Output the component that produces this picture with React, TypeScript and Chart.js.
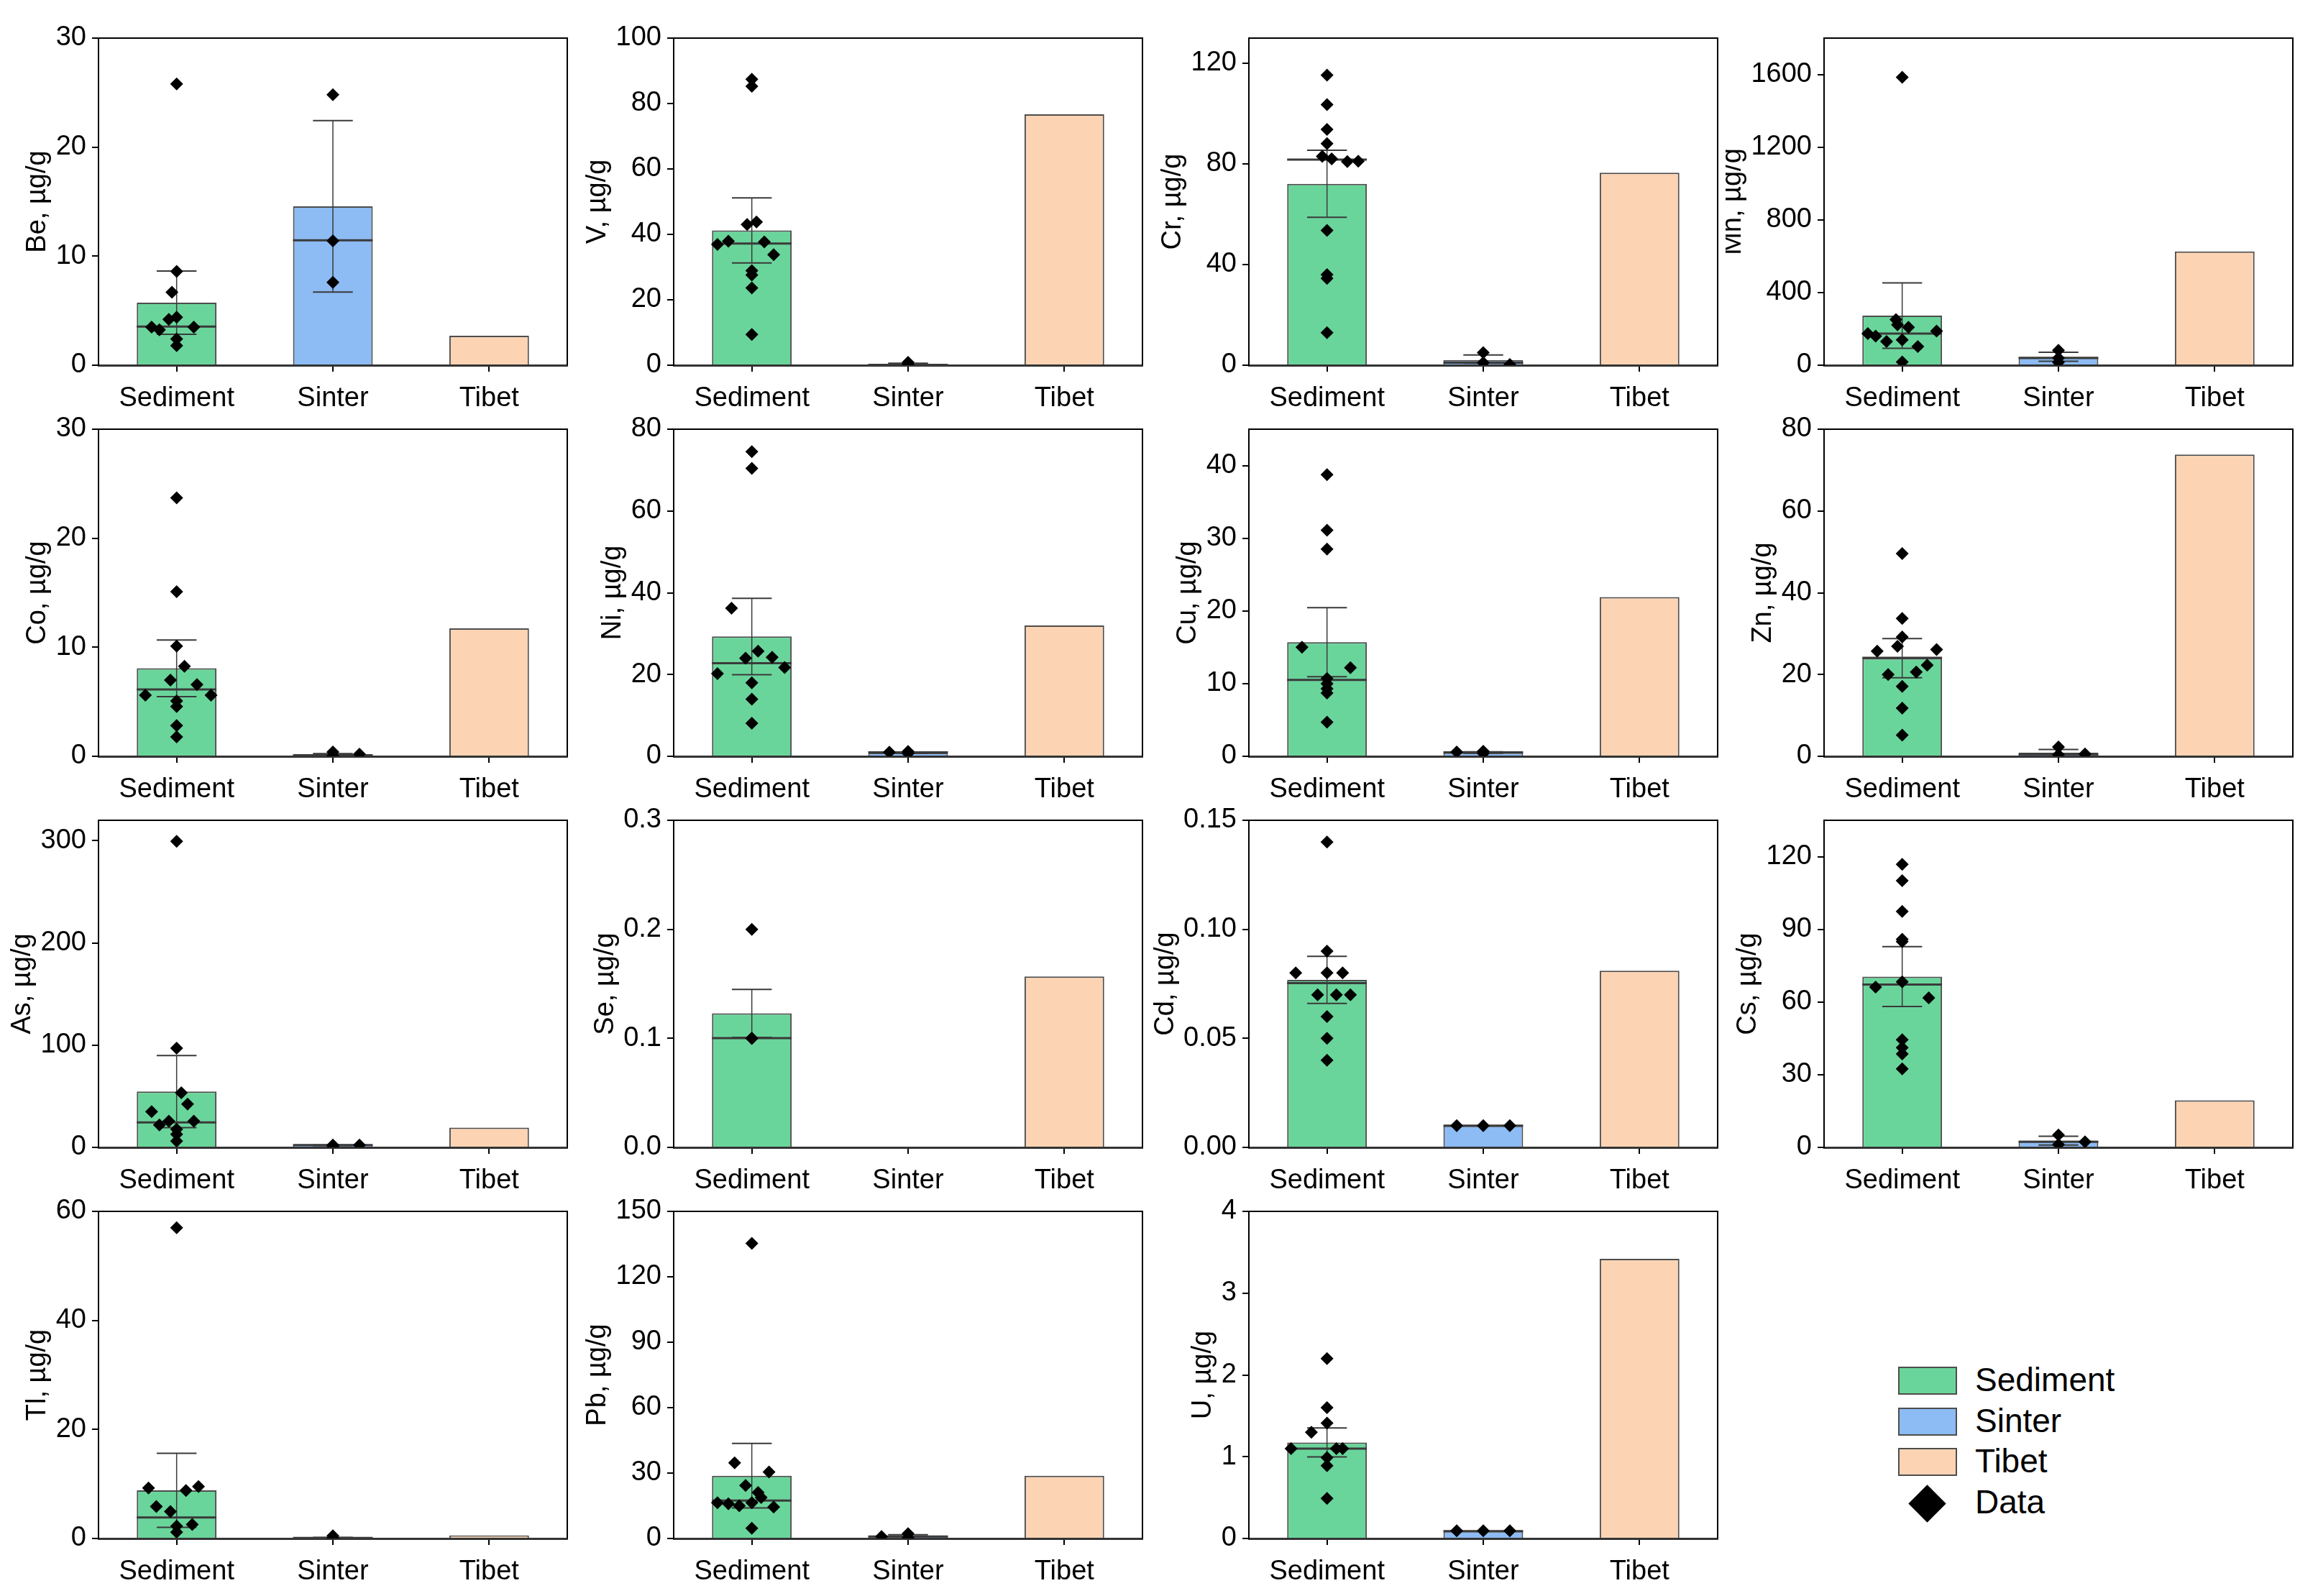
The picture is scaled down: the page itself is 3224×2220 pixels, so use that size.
import React, { useEffect, useRef } from 'react';
import { Chart, registerables } from 'chart.js';

Chart.register(...registerables);

const FONT = "'Liberation Sans', Arial, sans-serif";

const categories = ['Sediment', 'Sinter', 'Tibet'];
const barColors = ['#6AD59B', '#8DBBF3', '#FCD4B4'];
const elements = ['Be', 'V', 'Cr', 'Mn', 'Co', 'Ni', 'Cu', 'Zn', 'As', 'Se', 'Cd', 'Cs', 'Tl', 'Pb', 'U'];
const unitLabel = 'µg/g';

const yMax = [30, 100, 130, 1800, 30, 80, 45, 80, 320, 0.3, 0.15, 135, 60, 150, 4];
const yStep = [10, 20, 40, 400, 10, 20, 10, 20, 100, 0.1, 0.05, 30, 20, 30, 1];
const yDecimals = [0, 0, 0, 0, 0, 0, 0, 0, 0, 1, 2, 0, 0, 0, 0];

// bar heights (mean) for Sediment, Sinter, Tibet
const barMeans: (number | null)[][] = [
  [5.73, 14.57, 2.71],
  [41.2, 0.35, 76.7],
  [72.1, 2.1, 76.5],
  [273, 46.6, 626],
  [8.07, 0.15, 11.73],
  [29.3, 0.9, 32.0],
  [15.7, 0.52, 21.9],
  [24.0, 0.86, 73.8],
  [54.6, 2.0, 19.4],
  [0.1229, null, 0.1568],
  [0.0768, 0.01, 0.081],
  [70.5, 2.8, 19.4],
  [8.83, 0.15, 0.56],
  [28.8, 0.9, 28.8],
  [1.174, 0.09, 3.42],
];

// standard errors for Sediment, Sinter
const barSE: (number | null)[][] = [
  [2.9, 7.86],
  [9.95, 0.28],
  [13.3, 2.0],
  [180, 25],
  [2.6, 0.1],
  [9.35, 0.15],
  [4.75, 0.1],
  [4.8, 0.8],
  [35.2, 0.3],
  [0.022, null],
  [0.0108, 0],
  [12.35, 1.8],
  [6.8, 0.05],
  [14.8, 0.8],
  [0.177, 0],
];

// medians for Sediment, Sinter
const barMedians: (number | null)[][] = [
  [3.54, 11.45],
  [37.2, 0.1],
  [81.7, 1.0],
  [174, 40],
  [6.13, 0.1],
  [22.75, 0.95],
  [10.5, 0.55],
  [24.1, 0.5],
  [24.4, 2.2],
  [0.1002, null],
  [0.0753, 0.01],
  [67.2, 2.3],
  [3.85, 0.1],
  [17.4, 0.9],
  [1.1, 0.09],
];

const sedimentPoints: number[][] = [
  [25.8, 8.6, 6.7, 4.4, 4.2, 3.5, 3.25, 3.5, 2.4, 1.8],
  [87.4, 85.3, 43.8, 43.0, 37.9, 36.9, 37.7, 33.8, 28.9, 27.6, 23.6, 9.4],
  [115.3, 103.6, 93.7, 88.1, 83.0, 82.0, 80.9, 81.1, 53.6, 36.0, 34.5, 12.9],
  [1584, 251, 223, 209, 174, 160, 188, 131, 139, 103, 18],
  [23.7, 15.1, 10.1, 8.26, 6.99, 6.57, 5.6, 5.6, 5.07, 4.56, 2.82, 1.78],
  [74.5, 70.4, 36.2, 25.7, 24.0, 24.2, 21.7, 20.2, 18.0, 14.0, 8.1],
  [38.75, 31.1, 28.5, 15.0, 12.2, 10.7, 10.0, 9.3, 8.7, 4.7],
  [49.6, 33.7, 29.2, 26.9, 25.7, 26.1, 22.3, 20.6, 20.0, 17.1, 11.8, 5.2],
  [299.5, 97, 53.4, 42.3, 35, 25.6, 25.6, 21.9, 17.7, 12.8, 6.2],
  [0.2, 0.1, 0.1, 0.1],
  [0.14, 0.09, 0.08, 0.08, 0.08, 0.07, 0.07, 0.07, 0.06, 0.05, 0.04],
  [116.8, 110.1, 97.4, 85.9, 84.9, 68.3, 66.2, 61.7, 44.4, 41.2, 38.6, 32.4],
  [57.0, 9.26, 9.54, 8.79, 5.87, 4.93, 2.58, 2.26, 1.17],
  [135.3, 34.7, 30.5, 24.3, 21.1, 18.8, 16.4, 15.9, 15.0, 16.4, 14.4, 4.7],
  [2.2, 1.6, 1.41, 1.3, 1.1, 1.1, 1.1, 0.99, 0.89, 0.49],
];

// horizontal spread of each sediment point, in category widths
const sedimentJitter: number[][] = [
  [0, 0, -0.03, 0, -0.05, -0.16, -0.11, 0.11, 0, 0],
  [0, 0, 0.03, -0.03, -0.15, -0.22, 0.08, 0.14, 0, 0, 0, 0],
  [0, 0, 0, 0, -0.03, 0.03, 0.13, 0.2, 0, 0, 0, 0],
  [0, -0.04, -0.03, 0.04, -0.22, -0.17, 0.22, -0.1, 0, 0.1, 0],
  [0, 0, 0, 0.05, -0.04, 0.13, -0.2, 0.22, 0, 0, 0, 0],
  [0, 0, -0.13, 0.04, -0.04, 0.13, 0.21, -0.22, 0, 0, 0],
  [0, 0, 0, -0.16, 0.15, 0, 0, 0, 0, 0],
  [0, 0, 0, -0.03, -0.16, 0.22, 0.16, 0.09, -0.09, 0, 0, 0],
  [0, 0, 0.03, 0.07, -0.16, -0.05, 0.11, -0.11, 0, 0, 0],
  [0, 0, 0, 0],
  [0, 0, -0.2, 0, 0.1, -0.06, 0.06, 0.15, 0, 0, 0],
  [0, 0, 0, 0, 0, 0, -0.17, 0.17, 0, 0, 0, 0],
  [0, -0.18, 0.14, 0.06, -0.13, -0.04, 0.1, 0, 0],
  [0, -0.11, 0.11, -0.04, 0.04, 0.06, -0.22, -0.15, -0.08, 0, 0.14, 0],
  [0, 0, 0, -0.1, -0.23, 0.06, 0.1, 0, 0, 0],
];

const sinterPoints: number[][] = [
  [24.8, 11.4, 7.6],
  [0.9, 0.1, 0.05],
  [5.0, 1.0, 0.3],
  [82, 40, 16],
  [0.4, 0.2, 0.05],
  [1.0, 1.2, 0.7],
  [0.6, 0.7, 0.4],
  [2.3, 0.4, 0.55],
  [2.2, 2.2, 1.0],
  [],
  [0.01, 0.01, 0.01],
  [5.1, 1.2, 2.3],
  [0.5, 0.1, 0.05],
  [0.9, 2.2, 0.3],
  [0.094, 0.094, 0.094],
];

const sinterJitter: number[][] = [
  [0, 0, 0],
  [0, 0, 0],
  [0, 0, 0.17],
  [0, 0, 0],
  [0, 0.17, 0],
  [-0.12, 0, 0],
  [-0.17, 0, 0],
  [0, 0, 0.17],
  [0, 0.17, 0],
  [],
  [-0.17, 0, 0.17],
  [0, 0, 0.17],
  [0, 0, 0],
  [-0.17, 0, 0],
  [-0.17, 0, 0.17],
];

const legendItems = ['Sediment', 'Sinter', 'Tibet'];

const TICK_FONT = { family: FONT, size: 38 };
const TICK_LEN = 9;
const Y_PAD = 8;

const errorBarPlugin = {
  id: 'errorBars',
  afterDatasetDraw(chart: any, args: any, opts: any) {
    if (args.meta.type !== 'bar') return;
    const y = chart.scales.y;
    const ctx = chart.ctx;
    args.meta.data.forEach((bar: any, k: number) => {
      const mean = opts.means[k];
      if (mean == null || k > 1) return;
      const se = opts.se[k];
      const med = opts.medians[k];
      const { x, width } = bar.getProps(['x', 'width'], true);
      ctx.save();
      ctx.strokeStyle = '#3a3a3a';
      if (se != null && se > 0) {
        const yt = y.getPixelForValue(mean + se);
        const yb = y.getPixelForValue(mean - se);
        ctx.lineWidth = 1.5;
        ctx.beginPath();
        ctx.moveTo(x, yt);
        ctx.lineTo(x, yb);
        ctx.stroke();
        ctx.lineWidth = 2;
        ctx.beginPath();
        ctx.moveTo(x - width / 4, yt);
        ctx.lineTo(x + width / 4, yt);
        ctx.moveTo(x - width / 4, yb);
        ctx.lineTo(x + width / 4, yb);
        ctx.stroke();
      }
      if (med != null) {
        const ym = y.getPixelForValue(med);
        ctx.lineWidth = 3;
        ctx.beginPath();
        ctx.moveTo(x - width / 2, ym);
        ctx.lineTo(x + width / 2, ym);
        ctx.stroke();
      }
      ctx.restore();
    });
  },
};

const framePlugin = {
  id: 'frame',
  afterDraw(chart: any) {
    const { ctx, chartArea } = chart;
    ctx.save();
    ctx.strokeStyle = '#000';
    ctx.lineWidth = 2;
    ctx.beginPath();
    ctx.moveTo(chartArea.left, chartArea.top);
    ctx.lineTo(chartArea.right, chartArea.top);
    ctx.lineTo(chartArea.right, chartArea.bottom);
    ctx.stroke();
    ctx.restore();
  },
};

const axisTitlePlugin = {
  id: 'axisTitle',
  afterDraw(chart: any, _args: any, opts: any) {
    const { ctx, chartArea, scales } = chart;
    const y = scales.y;
    ctx.save();
    ctx.font = `${TICK_FONT.size}px ${FONT}`;
    let maxW = 0;
    y.ticks.forEach((t: any) => {
      maxW = Math.max(maxW, ctx.measureText(String(t.label)).width);
    });
    const x = chartArea.left - TICK_LEN - Y_PAD - maxW - 6;
    const cy = (chartArea.top + chartArea.bottom) / 2;
    ctx.translate(x, cy);
    ctx.rotate(-Math.PI / 2);
    ctx.font = `38px ${FONT}`;
    ctx.fillStyle = '#000';
    ctx.textAlign = 'center';
    ctx.textBaseline = 'bottom';
    ctx.fillText(opts.text, 0, 0);
    ctx.restore();
  },
};

function buildConfig(i: number): any {
  const sedPts = sedimentPoints[i].map((v, k) => ({ x: 0 + sedimentJitter[i][k], y: v }));
  const sinPts = sinterPoints[i].map((v, k) => ({ x: 1 + sinterJitter[i][k], y: v }));
  const dec = yDecimals[i];
  const step = yStep[i];
  return {
    type: 'bar',
    data: {
      labels: categories,
      datasets: [
        {
          type: 'scatter',
          data: [...sedPts, ...sinPts],
          xAxisID: 'xj',
          yAxisID: 'y',
          pointStyle: 'rectRot',
          pointRadius: 9,
          backgroundColor: '#000',
          borderColor: '#000',
          borderWidth: 0,
          order: 0,
        },
        {
          type: 'bar',
          data: barMeans[i],
          backgroundColor: barColors,
          borderColor: '#4d4d4d',
          borderWidth: 2,
          barPercentage: 0.51,
          categoryPercentage: 1,
          grouped: false,
          xAxisID: 'x',
          yAxisID: 'y',
          order: 1,
        },
      ],
    },
    options: {
      animation: false,
      responsive: false,
      events: [],
      layout: { padding: { left: 0, top: 53, right: 11, bottom: 2 } },
      plugins: {
        legend: { display: false },
        tooltip: { enabled: false },
        title: { display: false },
        errorBars: { means: barMeans[i], se: barSE[i], medians: barMedians[i] },
        axisTitle: { text: `${elements[i]}, ${unitLabel}` },
      },
      scales: {
        x: {
          type: 'category',
          offset: true,
          grid: {
            display: true,
            drawOnChartArea: false,
            drawTicks: true,
            tickLength: TICK_LEN,
            color: '#000',
            lineWidth: 2,
            offset: false,
          },
          border: { display: true, color: '#333', width: 3 },
          ticks: { font: TICK_FONT, color: '#000', padding: 15, maxRotation: 0, autoSkip: false },
          afterFit(s: any) {
            s.height = 70;
          },
        },
        xj: {
          type: 'linear',
          display: false,
          offset: false,
          grid: { offset: false },
          min: -0.5,
          max: 2.5,
        },
        y: {
          type: 'linear',
          min: 0,
          max: yMax[i],
          bounds: 'data',
          grid: {
            display: true,
            drawOnChartArea: false,
            drawTicks: true,
            tickLength: TICK_LEN,
            color: '#000',
            lineWidth: 2,
          },
          border: { display: true, color: '#000', width: 2 },
          ticks: {
            stepSize: step,
            includeBounds: false,
            font: TICK_FONT,
            color: '#000',
            padding: Y_PAD,
            callback: (v: any) => Number(v).toFixed(dec),
          },
          afterBuildTicks(s: any) {
            s.ticks = s.ticks.filter((t: any) => {
              const r = t.value / step;
              return Math.abs(r - Math.round(r)) < 1e-6;
            });
          },
          afterFit(s: any) {
            s.width = 137;
          },
        },
      },
    },
    plugins: [errorBarPlugin, framePlugin, axisTitlePlugin],
  };
}

function Panel({ idx }: { idx: number }) {
  const ref = useRef<HTMLCanvasElement>(null);
  useEffect(() => {
    const chart = new Chart(ref.current as HTMLCanvasElement, buildConfig(idx));
    return () => chart.destroy();
  }, [idx]);
  const col = idx % 4;
  const row = Math.floor(idx / 4);
  return (
    <canvas
      ref={ref}
      width={800}
      height={580}
      style={{ position: 'absolute', left: col * 800, top: row * 544, width: 800, height: 580 }}
    />
  );
}

function Legend() {
  const rowTops = [1901, 1958, 2014];
  const textStyle: React.CSSProperties = {
    position: 'absolute',
    left: 2747,
    fontFamily: FONT,
    fontSize: 46,
    lineHeight: '52px',
    color: '#000',
    whiteSpace: 'nowrap',
  };
  return (
    <>
      {legendItems.map((name, k) => (
        <React.Fragment key={name}>
          <div
            style={{
              position: 'absolute',
              left: 2640,
              top: rowTops[k],
              width: 82,
              height: 39,
              boxSizing: 'border-box',
              background: barColors[k],
              border: '2px solid #4d4d4d',
            }}
          />
          <div style={{ ...textStyle, top: rowTops[k] + 19.5 - 26 - 2 }}>{name}</div>
        </React.Fragment>
      ))}
      <div
        style={{
          position: 'absolute',
          left: 2680 - 18.5,
          top: 2091 - 18.5,
          width: 37,
          height: 37,
          background: '#000',
          transform: 'rotate(45deg)',
        }}
      />
      <div style={{ ...textStyle, top: 2091 - 26 - 2 }}>Data</div>
    </>
  );
}

export default function App() {
  return (
    <div
      style={{
        position: 'absolute',
        left: 0,
        top: 0,
        width: 3224,
        height: 2220,
        background: '#fff',
        overflow: 'hidden',
      }}
    >
      {elements.map((_, i) => (
        <Panel key={i} idx={i} />
      ))}
      <Legend />
    </div>
  );
}
